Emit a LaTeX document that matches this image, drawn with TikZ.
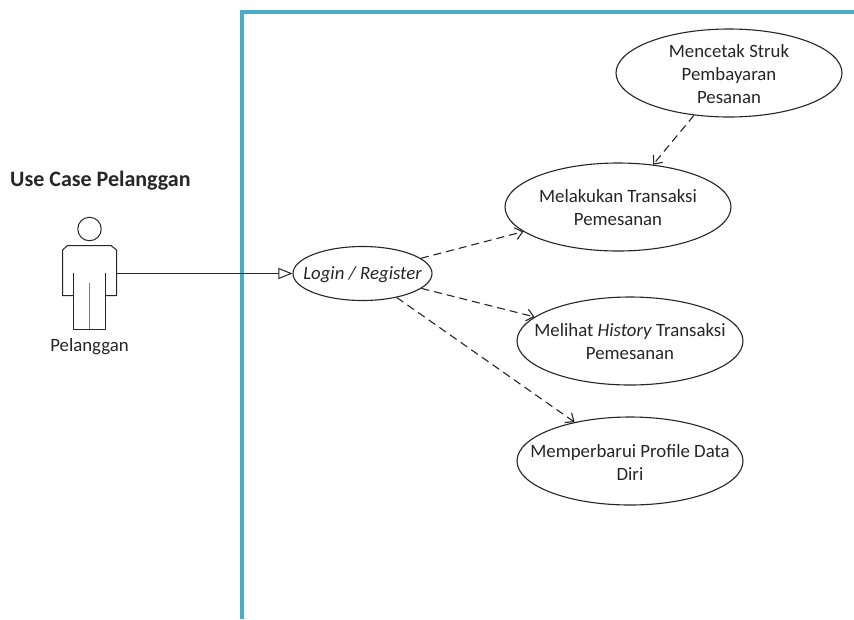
\documentclass[tikz,border=0pt]{standalone}
\usepackage{fontspec}
\setmainfont{Carlito}
\usetikzlibrary{shapes.geometric,arrows.meta}
\definecolor{frameblue}{HTML}{4BACC6}
\definecolor{ink}{HTML}{262626}
\tikzset{
  case/.style={draw=ink,line width=1.1pt,ellipse,inner sep=0pt,minimum width=226pt,minimum height=88pt},
  smallcase/.style={case,minimum width=139pt,minimum height=54pt},
  casetext/.style={inner sep=0pt,align=center,text=ink,yshift=-1pt,font=\fontsize{18.8}{23}\selectfont},
  actorline/.style={draw=ink,line width=1pt,line join=round},
  assoc/.style={draw=ink,line width=1pt,-{Triangle[open,length=14pt,width=11pt,fill=white]}},
  dep/.style={draw=ink,line width=1.1pt,dash pattern=on 8pt off 5pt,-{Straight Barb[length=7pt,width=12pt,line width=1.1pt]}},
  frameline/.style={draw=frameblue,line width=3.6pt,line cap=butt,line join=miter},
  lbl/.style={text=ink,inner sep=0pt}
}
\begin{document}
\begin{tikzpicture}[x=1pt,y=-1pt]
\useasboundingbox (0,0) rectangle (854,619);
\fill[white] (0,0) rectangle (854,619);
\draw[frameline] (242,619) -- (242,12) -- (854,12);

\node[lbl,anchor=west,font=\fontsize{22}{26}\selectfont\bfseries] (title) at (10,181) {Use Case Pelanggan};

% actor
\node[actorline,draw,circle,minimum size=23.5pt,inner sep=0pt] (head) at (89.5,229) {};
\draw[actorline] (73.5,295.5) -- (62.5,295.5) -- (62.5,250) -- (67.5,245.5) -- (111,245.5) -- (116.5,250) -- (116.5,295.5) -- (105.5,295.5);
\draw[actorline] (73.5,273) -- (73.5,329.5) -- (105.5,329.5) -- (105.5,273);
\draw[draw=ink!60,line width=1pt] (89.5,283) -- (89.5,329);
\coordinate (hand) at (116.5,273.5);
\node[lbl,font=\fontsize{18.8}{23}\selectfont] (actorname) at (89.5,347) {Pelanggan};

% use cases
\node[smallcase] (login) at (362.5,273.5) {};
\node[case] (struk) at (729,73) {};
\node[case] (transaksi) at (618,207) {};
\node[case] (history) at (630,341) {};
\node[case] (profile) at (630,461) {};
\node[casetext] (logintext) at (login) {\itshape Login / Register};
\node[casetext] (struktext) at (struk) {Mencetak Struk\\Pembayaran\\Pesanan};
\node[casetext] (transaksitext) at (transaksi) {Melakukan Transaksi\\Pemesanan};
\node[casetext] (historytext) at (history) {Melihat \textit{History} Transaksi\\Pemesanan};
\node[casetext] (profiletext) at (profile) {Memperbarui Profile Data\\Diri};

% connectors
\draw[assoc] (hand) -- (login);
\draw[dep] (login) -- (transaksi);
\draw[dep] (login) -- (history);
\draw[dep] (login) -- (profile);
\draw[dep] (struk) -- (transaksi);
\end{tikzpicture}
\end{document}
